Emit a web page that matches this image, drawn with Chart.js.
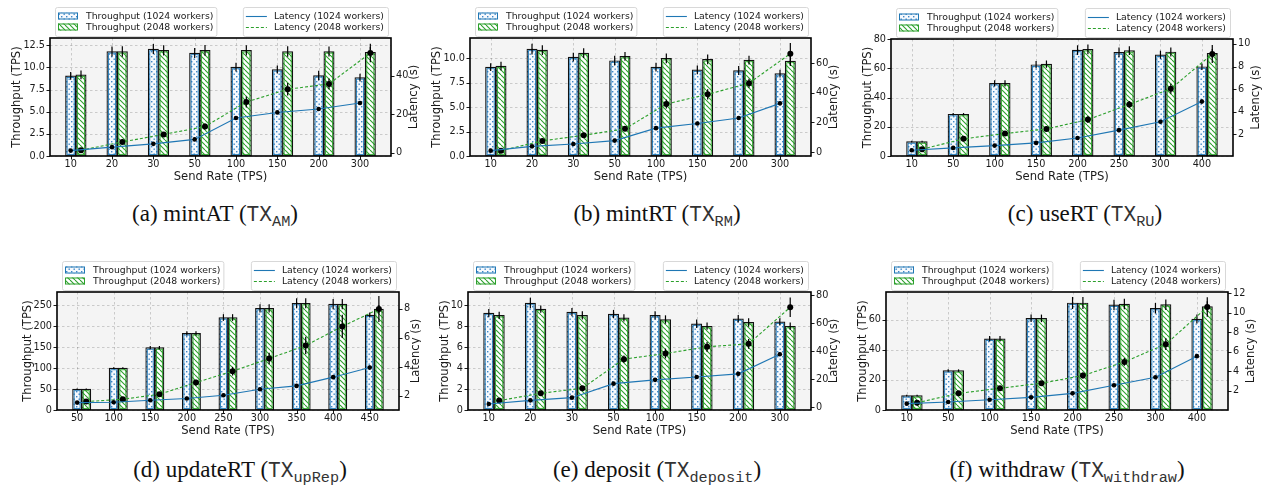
<!DOCTYPE html>
<html>
<head>
<meta charset="utf-8">
<script src="https://cdn.jsdelivr.net/npm/chart.js@4/dist/chart.umd.min.js"></script>
<style>
  body { margin: 0; background: #fff; width: 1263px; height: 487px; position: relative; overflow: hidden; }
  canvas { position: absolute; }
  .cap { position: absolute; transform: translateX(-50%); white-space: nowrap; color: #111;
         font-family: "Liberation Serif", "Times New Roman", serif; font-size: 23px; line-height: 26px; }
  .tt { font-family: "Liberation Mono", "DejaVu Sans Mono", monospace; font-size: 0.92em; color: #333; }
  .tt sub { font-size: 0.72em; vertical-align: -0.3em; line-height: 0; }
</style>
</head>
<body>
<canvas id="cA"></canvas>
<canvas id="cB"></canvas>
<canvas id="cC"></canvas>
<canvas id="cD"></canvas>
<canvas id="cE"></canvas>
<canvas id="cF"></canvas>

<div class="cap" style="left:215px; top:201px">(a) mintAT (<span class="tt">TX<sub>AM</sub></span>)</div>
<div class="cap" style="left:657px; top:201px">(b) mintRT (<span class="tt">TX<sub>RM</sub></span>)</div>
<div class="cap" style="left:1085px; top:201px">(c) useRT (<span class="tt">TX<sub>RU</sub></span>)</div>
<div class="cap" style="left:240px; top:457px">(d) updateRT (<span class="tt">TX<sub>upRep</sub></span>)</div>
<div class="cap" style="left:657px; top:457px">(e) deposit (<span class="tt">TX<sub>deposit</sub></span>)</div>
<div class="cap" style="left:1067px; top:457px">(f) withdraw (<span class="tt">TX<sub>withdraw</sub></span>)</div>

<script>
// ================= DATOS =================
// (a) mintAT
const ratesA       = ['10', '20', '30', '50', '100', '150', '200', '300'];
const thr1024A     = [9.05, 11.8, 12.08, 11.63, 10.04, 9.77, 9.09, 8.86];
const thr1024ErrA  = [0.45, 0.57, 0.57, 0.57, 0.5, 0.45, 0.55, 0.43];
const thr2048A     = [9.17, 11.8, 11.93, 11.93, 11.93, 11.8, 11.8, 11.7];
const thr2048ErrA  = [0.5, 0.6, 0.57, 0.6, 0.57, 0.6, 0.57, 0.6];
const lat1024A     = [1.2, 3.0, 4.7, 7.0, 18.1, 21.0, 22.8, 25.9];
const lat1024ErrA  = [0.5, 0.6, 0.6, 0.7, 0.8, 0.8, 0.8, 1.0];
const lat2048A     = [1.4, 5.7, 9.6, 13.7, 26.4, 33.0, 35.8, 51.8];
const lat2048ErrA  = [0.6, 1.0, 1.0, 1.5, 2.8, 3.2, 2.8, 4.8];
const yTicksA      = ['0.0', '2.5', '5.0', '7.5', '10.0', '12.5'];
const y2TicksA     = ['0', '20', '40'];

// (b) mintRT
const ratesB       = ['10', '20', '30', '50', '100', '150', '200', '300'];
const thr1024B     = [9.08, 10.92, 10.1, 9.73, 9.08, 8.8, 8.73, 8.42];
const thr1024ErrB  = [0.4, 0.55, 0.45, 0.5, 0.45, 0.45, 0.45, 0.4];
const thr2048B     = [9.18, 10.82, 10.51, 10.17, 9.97, 9.86, 9.79, 9.69];
const thr2048ErrB  = [0.45, 0.5, 0.5, 0.45, 0.5, 0.5, 0.45, 0.5];
const lat1024B     = [0.9, 3.8, 5.4, 7.7, 16.1, 19.2, 22.9, 32.8];
const lat1024ErrB  = [0.5, 0.6, 0.6, 0.7, 0.9, 0.9, 1.0, 1.2];
const lat2048B     = [0.9, 7.5, 11.3, 15.6, 32.4, 38.9, 46.4, 66.3];
const lat2048ErrB  = [0.6, 1.0, 1.2, 1.5, 3.0, 3.5, 3.0, 7.3];
const yTicksB      = ['0.0', '2.5', '5.0', '7.5', '10.0'];
const y2TicksB     = ['0', '20', '40', '60'];

// (c) useRT
const ratesC       = ['10', '50', '100', '150', '200', '250', '300', '400'];
const thr1024C     = [9.8, 28.6, 49.7, 62.5, 72.5, 70.9, 69.3, 61.1];
const thr1024ErrC  = [0.6, 0.8, 2.2, 2.5, 3.3, 3.3, 2.8, 2.3];
const thr2048C     = [9.8, 28.6, 49.7, 62.9, 73.0, 72.1, 71.2, 70.3];
const thr2048ErrC  = [0.6, 0.8, 2.2, 2.5, 3.3, 3.0, 3.0, 3.0];
const lat1024C     = [0.58, 0.79, 0.99, 1.23, 1.67, 2.36, 3.1, 4.9];
const lat1024ErrC  = [0.05, 0.05, 0.06, 0.07, 0.08, 0.1, 0.12, 0.2];
const lat2048C     = [0.67, 1.59, 2.06, 2.47, 3.3, 4.64, 6.03, 9.11];
const lat2048ErrC  = [0.06, 0.1, 0.12, 0.15, 0.3, 0.3, 0.45, 0.8];
const yTicksC      = ['0', '20', '40', '60', '80'];
const y2TicksC     = ['2', '4', '6', '8', '10'];

// (d) updateRT
const ratesD       = ['50', '100', '150', '200', '250', '300', '350', '400', '450'];
const thr1024D     = [50, 100, 149, 183, 221, 243, 255, 253, 227];
const thr1024ErrD  = [1.5, 2, 4, 5, 8, 10, 12, 12, 6];
const thr2048D     = [50, 100, 149, 183, 221, 243, 255, 253, 241];
const thr2048ErrD  = [1.5, 2, 4, 5, 8, 10, 12, 12, 10];
const lat1024D     = [1.54, 1.56, 1.70, 1.82, 2.05, 2.46, 2.69, 3.29, 3.95];
const lat1024ErrD  = [0.05, 0.05, 0.06, 0.06, 0.08, 0.1, 0.1, 0.12, 0.15];
const lat2048D     = [1.61, 1.77, 2.11, 2.92, 3.70, 4.57, 5.47, 6.78, 7.98];
const lat2048ErrD  = [0.06, 0.1, 0.15, 0.2, 0.3, 0.4, 0.6, 0.8, 0.9];
const yTicksD      = ['0', '50', '100', '150', '200', '250'];
const y2TicksD     = ['2', '4', '6', '8'];

// (e) deposit
const ratesE       = ['10', '20', '30', '50', '100', '150', '200', '300'];
const thr1024E     = [9.26, 10.22, 9.36, 9.17, 9.04, 8.24, 8.72, 8.43];
const thr1024ErrE  = [0.4, 0.5, 0.4, 0.4, 0.4, 0.4, 0.35, 0.35];
const thr2048E     = [9.04, 9.65, 9.04, 8.81, 8.65, 8.01, 8.37, 8.01];
const thr2048ErrE  = [0.35, 0.35, 0.4, 0.35, 0.4, 0.35, 0.4, 0.35];
const lat1024E     = [2.4, 5.0, 6.9, 16.9, 19.6, 21.7, 23.9, 37.9];
const lat1024ErrE  = [0.5, 0.6, 0.7, 0.8, 0.9, 0.9, 1.0, 1.2];
const lat2048E     = [4.8, 10.0, 13.6, 34.4, 38.4, 43.2, 45.3, 71.4];
const lat2048ErrE  = [0.8, 1.2, 1.5, 2.5, 3.5, 3.5, 3.5, 7.0];
const yTicksE      = ['0', '2', '4', '6', '8', '10'];
const y2TicksE     = ['0', '20', '40', '60', '80'];

// (f) withdraw
const ratesF       = ['10', '50', '100', '150', '200', '250', '300', '400'];
const thr1024F     = [9.6, 26.2, 47.3, 60.9, 71.1, 69.8, 67.6, 60.4];
const thr1024ErrF  = [0.6, 0.8, 1.8, 2.5, 4, 3.5, 3.5, 3];
const thr2048F     = [9.6, 26.2, 47.3, 60.9, 71.1, 70.4, 70.0, 68.7];
const thr2048ErrF  = [0.6, 0.8, 1.8, 2.5, 4, 3.5, 3.5, 3.5];
const lat1024F     = [0.66, 0.83, 1.07, 1.31, 1.72, 2.55, 3.38, 5.54];
const lat1024ErrF  = [0.05, 0.05, 0.06, 0.07, 0.08, 0.1, 0.12, 0.2];
const lat2048F     = [0.76, 1.72, 2.24, 2.76, 3.55, 4.95, 6.77, 10.58];
const lat2048ErrF  = [0.06, 0.1, 0.15, 0.2, 0.3, 0.4, 0.6, 1.0];
const yTicksF      = ['0', '20', '40', '60'];
const y2TicksF     = ['2', '4', '6', '8', '10', '12'];

// ================= ESTILO =================
const CW = 421, CH = 195;
const BAR_W = 0.25;                 // ancho de barra en unidades de categoría
const BLUE = '#1f77b4', GREEN = '#2ca02c', TEXT = '#1a1a1a';
const TICK_FONT = { family: 'DejaVu Sans', size: 9.7 };
const TICK_CSS = '9.7px "DejaVu Sans"';
const TITLE_CSS = '11.6px "DejaVu Sans"';
const LEGEND_CSS = '9.3px "DejaVu Sans"';

const PANELS = [
    { id: 'cA', left: 0,   top: 0,   plot: { l: 50, t: 38, r: 391, b: 156 },
      rates: ratesA, thr1024: thr1024A, thr1024Err: thr1024ErrA, thr2048: thr2048A, thr2048Err: thr2048ErrA,
      lat1024: lat1024A, lat1024Err: lat1024ErrA, lat2048: lat2048A, lat2048Err: lat2048ErrA,
      yRange: [0, 13.33], y2Range: [-1.6, 59.6], yTicks: yTicksA, y2Ticks: y2TicksA },
    { id: 'cB', left: 421, top: 0,   plot: { l: 49, t: 38, r: 390, b: 156 },
      rates: ratesB, thr1024: thr1024B, thr1024Err: thr1024ErrB, thr2048: thr2048B, thr2048Err: thr2048ErrB,
      lat1024: lat1024B, lat1024Err: lat1024ErrB, lat2048: lat2048B, lat2048Err: lat2048ErrB,
      yRange: [0, 12.05], y2Range: [-2.7, 76.9], yTicks: yTicksB, y2Ticks: y2TicksB },
    { id: 'cC', left: 842, top: 0,   plot: { l: 49, t: 39, r: 391, b: 156 },
      rates: ratesC, thr1024: thr1024C, thr1024Err: thr1024ErrC, thr2048: thr2048C, thr2048Err: thr2048ErrC,
      lat1024: lat1024C, lat1024Err: lat1024ErrC, lat2048: lat2048C, lat2048Err: lat2048ErrC,
      yRange: [0, 80.1], y2Range: [0.07, 10.44], yTicks: yTicksC, y2Ticks: y2TicksC },
    { id: 'cD', left: 0,   top: 250, plot: { l: 57, t: 42, r: 399, b: 160 },
      rates: ratesD, thr1024: thr1024D, thr1024Err: thr1024ErrD, thr2048: thr2048D, thr2048Err: thr2048ErrD,
      lat1024: lat1024D, lat1024Err: lat1024ErrD, lat2048: lat2048D, lat2048Err: lat2048ErrD,
      yRange: [0, 282], y2Range: [1.03, 9.15], yTicks: yTicksD, y2Ticks: y2TicksD },
    { id: 'cE', left: 421, top: 250, plot: { l: 47, t: 42, r: 390, b: 160 },
      rates: ratesE, thr1024: thr1024E, thr1024Err: thr1024ErrE, thr2048: thr2048E, thr2048Err: thr2048ErrE,
      lat1024: lat1024E, lat1024Err: lat1024ErrE, lat2048: lat2048E, lat2048Err: lat2048ErrE,
      yRange: [0, 11.28], y2Range: [-1.9, 82.3], yTicks: yTicksE, y2Ticks: y2TicksE },
    { id: 'cF', left: 842, top: 250, plot: { l: 44, t: 42, r: 386, b: 160 },
      rates: ratesF, thr1024: thr1024F, thr1024Err: thr1024ErrF, thr2048: thr2048F, thr2048Err: thr2048ErrF,
      lat1024: lat1024F, lat1024Err: lat1024ErrF, lat2048: lat2048F, lat2048Err: lat2048ErrF,
      yRange: [0, 78.4], y2Range: [0.01, 12.13], yTicks: yTicksF, y2Ticks: y2TicksF }
];

// ================= PATRONES =================
function makeDots() {
    const c = document.createElement('canvas');
    c.width = 5; c.height = 5;
    const g = c.getContext('2d');
    g.fillStyle = '#f6f9fd'; g.fillRect(0, 0, 5, 5);
    g.fillStyle = '#3d86c6';
    g.fillRect(1, 1, 1.4, 1.4);
    g.fillRect(3.5, 3.5, 1.4, 1.4);
    return g.createPattern(c, 'repeat');
}

function makeHatch() {
    const c = document.createElement('canvas');
    c.width = 5; c.height = 5;
    const g = c.getContext('2d');
    g.fillStyle = '#ffffff'; g.fillRect(0, 0, 5, 5);
    g.strokeStyle = GREEN; g.lineWidth = 1.1;
    [-5, 0, 5].forEach(x0 => {
        g.beginPath(); g.moveTo(x0, 0); g.lineTo(x0 + 5, 5); g.stroke();
    });
    return g.createPattern(c, 'repeat');
}

const dotPattern = makeDots();
const hatchPattern = makeHatch();

// ================= PLUGIN =================
function drawVErr(ctx, x, y1, y2) {
    ctx.beginPath(); ctx.moveTo(x, y1); ctx.lineTo(x, y2); ctx.stroke();
}

function legendBox(ctx, x, y, w, h) {
    ctx.beginPath();
    ctx.roundRect(x + 0.5, y + 0.5, w, h, 2);
    ctx.fillStyle = 'rgba(255,255,255,0.85)';
    ctx.fill();
    ctx.strokeStyle = '#d4d4d4'; ctx.lineWidth = 0.9;
    ctx.stroke();
}

const decor = {
    id: 'decor',
    beforeDraw(chart) {
        const { ctx, chartArea: a } = chart;
        ctx.save();
        ctx.fillStyle = '#f4f4f4';
        ctx.fillRect(a.left, a.top, a.right - a.left, a.bottom - a.top);
        ctx.restore();
    },
    beforeDatasetsDraw(chart) {
        const { ctx, chartArea: a, scales } = chart;
        ctx.save();
        ctx.strokeStyle = 'rgba(0,0,0,0.22)';
        ctx.lineWidth = 0.8;
        ctx.setLineDash([2.5, 2.5]);
        scales.x.ticks.forEach(t => {
            const x = Math.round(scales.x.getPixelForValue(t.value)) + 0.5;
            drawVErr(ctx, x, a.top, a.bottom);
        });
        scales.y.ticks.forEach(t => {
            const y = Math.round(scales.y.getPixelForValue(t.value)) + 0.5;
            ctx.beginPath(); ctx.moveTo(a.left, y); ctx.lineTo(a.right, y); ctx.stroke();
        });
        ctx.restore();
    },
    afterDatasetDraw(chart, args) {
        const ds = chart.data.datasets[args.index];
        const { ctx, scales } = chart;
        ctx.save();
        if (ds.type === 'bar') {
            args.meta.data.forEach(el => {
                const l = el.x - el.width / 2;
                ctx.strokeStyle = ds.insetColor; ctx.lineWidth = 0.9;
                ctx.strokeRect(l + 1.6, el.y + 1.6, el.width - 3.2, el.base - el.y - 3.2);
            });
            ctx.strokeStyle = '#000'; ctx.lineWidth = 1.2;
            args.meta.data.forEach((el, i) => {
                const v = ds.data[i].y, e = ds.err[i];
                drawVErr(ctx, el.x, scales.y.getPixelForValue(v + e), scales.y.getPixelForValue(v - e));
            });
        } else {
            ctx.strokeStyle = '#000'; ctx.lineWidth = 1.2;
            args.meta.data.forEach((el, i) => {
                const v = ds.data[i].y, e = ds.err[i];
                drawVErr(ctx, el.x, scales.y2.getPixelForValue(v + e), scales.y2.getPixelForValue(v - e));
            });
        }
        ctx.restore();
    },
    afterDraw(chart) {
        const { ctx, chartArea: a, scales } = chart;
        const ds = chart.data.datasets;
        ctx.save();
        // marco
        ctx.strokeStyle = '#000'; ctx.lineWidth = 1.6;
        ctx.strokeRect(a.left, a.top, a.right - a.left, a.bottom - a.top);
        // marcas de los ejes
        ctx.lineWidth = 0.9;
        scales.x.ticks.forEach(t => {
            const x = Math.round(scales.x.getPixelForValue(t.value)) + 0.5;
            drawVErr(ctx, x, a.bottom, a.bottom + 3.5);
        });
        scales.y.ticks.forEach(t => {
            const y = Math.round(scales.y.getPixelForValue(t.value)) + 0.5;
            ctx.beginPath(); ctx.moveTo(a.left - 3.5, y); ctx.lineTo(a.left, y); ctx.stroke();
        });
        scales.y2.ticks.forEach(t => {
            const y = Math.round(scales.y2.getPixelForValue(t.value)) + 0.5;
            ctx.beginPath(); ctx.moveTo(a.right, y); ctx.lineTo(a.right + 3.5, y); ctx.stroke();
        });

        // titulos de los ejes
        const p = chart.options.plugins.decor.panel;
        ctx.font = TICK_CSS;
        const wL = Math.max(...p.yTicks.map(t => ctx.measureText(t).width));
        const wR = Math.max(...p.y2Ticks.map(t => ctx.measureText(t).width));
        const midY = (a.top + a.bottom) / 2;
        ctx.font = TITLE_CSS;
        ctx.fillStyle = TEXT;
        ctx.textAlign = 'center'; ctx.textBaseline = 'middle';
        ctx.fillText('Send Rate (TPS)', (a.left + a.right) / 2, a.bottom + 20.5);
        [[a.left - wL - 11, 'Throughput (TPS)'], [a.right + wR + 11, 'Latency (s)']].forEach(([x, txt]) => {
            ctx.save(); ctx.translate(x, midY); ctx.rotate(-Math.PI / 2);
            ctx.fillText(txt, 0, 0); ctx.restore();
        });

        // leyendas
        ctx.font = LEGEND_CSS;
        ctx.textAlign = 'left';
        const bars = [ds[2], ds[3]], lines = [ds[0], ds[1]];
        const w1 = Math.max(...bars.map(d => ctx.measureText(d.label).width)) + 34;
        const w2 = Math.max(...lines.map(d => ctx.measureText(d.label).width)) + 35;
        const top = a.top - 31, h = 29;
        const x1 = a.left + 5, x2 = a.right - 3 - w2;
        legendBox(ctx, x1, top, w1, h);
        legendBox(ctx, x2, top, w2, h);
        const rows = [top + 9, top + 20];
        bars.forEach((d, i) => {
            ctx.fillStyle = d.backgroundColor;
            ctx.fillRect(x1 + 3, rows[i] - 3.5, 20, 7);
            ctx.strokeStyle = d.insetColor; ctx.lineWidth = 1;
            ctx.strokeRect(x1 + 3.5, rows[i] - 3, 19, 6);
            ctx.fillStyle = TEXT;
            ctx.fillText(d.label, x1 + 31, rows[i] + 0.5);
        });
        lines.forEach((d, i) => {
            ctx.strokeStyle = d.borderColor; ctx.lineWidth = 1.1;
            ctx.setLineDash(d.borderDash || []);
            ctx.beginPath(); ctx.moveTo(x2 + 3, rows[i] + 0.5); ctx.lineTo(x2 + 24, rows[i] + 0.5); ctx.stroke();
            ctx.setLineDash([]);
            ctx.fillStyle = TEXT;
            ctx.fillText(d.label, x2 + 31, rows[i] + 0.5);
        });
        ctx.restore();
    }
};

// ================= GRAFICAS =================
function points(arr, dx) {
    return arr.map((v, i) => ({ x: i + dx, y: v }));
}

function makeChart(p) {
    const cv = document.getElementById(p.id);
    cv.width = CW; cv.height = CH;
    cv.style.left = p.left + 'px';
    cv.style.top = p.top + 'px';
    cv.style.width = CW + 'px';
    cv.style.height = CH + 'px';

    const n = p.rates.length;
    const span = n - 1 + 2 * BAR_W;
    const xMin = -BAR_W / 2 - 0.05 * span;
    const xMax = n - 1 + 1.5 * BAR_W + 0.05 * span;

    new Chart(cv, {
        type: 'bar',
        data: {
            datasets: [
                { type: 'line', label: 'Latency (1024 workers)', data: points(p.lat1024, 0), err: p.lat1024Err,
                  yAxisID: 'y2', borderColor: BLUE, borderWidth: 1.1, tension: 0,
                  pointRadius: 2.3, pointBackgroundColor: '#000', pointBorderWidth: 0, order: 0 },
                { type: 'line', label: 'Latency (2048 workers)', data: points(p.lat2048, BAR_W), err: p.lat2048Err,
                  yAxisID: 'y2', borderColor: GREEN, borderWidth: 1.1, borderDash: [3, 2], tension: 0,
                  pointRadius: 3, pointBackgroundColor: '#000', pointBorderWidth: 0, order: 0 },
                { type: 'bar', label: 'Throughput (1024 workers)', data: points(p.thr1024, 0), err: p.thr1024Err,
                  yAxisID: 'y', backgroundColor: dotPattern, borderColor: '#111', borderWidth: 1.2,
                  borderSkipped: false, grouped: false, categoryPercentage: 1, barPercentage: 1,
                  insetColor: BLUE, order: 1 },
                { type: 'bar', label: 'Throughput (2048 workers)', data: points(p.thr2048, BAR_W), err: p.thr2048Err,
                  yAxisID: 'y', backgroundColor: hatchPattern, borderColor: '#111', borderWidth: 1.2,
                  borderSkipped: false, grouped: false, categoryPercentage: 1, barPercentage: 1,
                  insetColor: GREEN, order: 1 }
            ]
        },
        options: {
            responsive: false, animation: false, devicePixelRatio: 1, events: [],
            layout: { padding: { top: p.plot.t, left: 0, right: 0, bottom: 0 } },
            plugins: { legend: { display: false }, tooltip: { enabled: false }, decor: { panel: p } },
            scales: {
                x: {
                    type: 'linear', min: xMin, max: xMax, offset: false,
                    grid: { display: false, drawTicks: false }, border: { display: false },
                    afterBuildTicks: s => { s.ticks = p.rates.map((_, i) => ({ value: i })); },
                    ticks: { autoSkip: false, maxRotation: 0, padding: 3, font: TICK_FONT, color: TEXT,
                             callback: v => p.rates[v] },
                    afterFit: s => { s.height = CH - p.plot.b; }
                },
                y: {
                    type: 'linear', position: 'left', min: p.yRange[0], max: p.yRange[1],
                    grid: { display: false, drawTicks: false }, border: { display: false },
                    afterBuildTicks: s => { s.ticks = p.yTicks.map(t => ({ value: parseFloat(t) })); },
                    ticks: { padding: 5, font: TICK_FONT, color: TEXT, callback: (v, i) => p.yTicks[i] },
                    afterFit: s => { s.width = p.plot.l; }
                },
                y2: {
                    type: 'linear', position: 'right', min: p.y2Range[0], max: p.y2Range[1],
                    grid: { display: false, drawTicks: false }, border: { display: false },
                    afterBuildTicks: s => { s.ticks = p.y2Ticks.map(t => ({ value: parseFloat(t) })); },
                    ticks: { padding: 5, font: TICK_FONT, color: TEXT, callback: (v, i) => p.y2Ticks[i] },
                    afterFit: s => { s.width = CW - p.plot.r; }
                }
            }
        },
        plugins: [decor]
    });
}

PANELS.forEach(makeChart);
</script>
</body>
</html>
